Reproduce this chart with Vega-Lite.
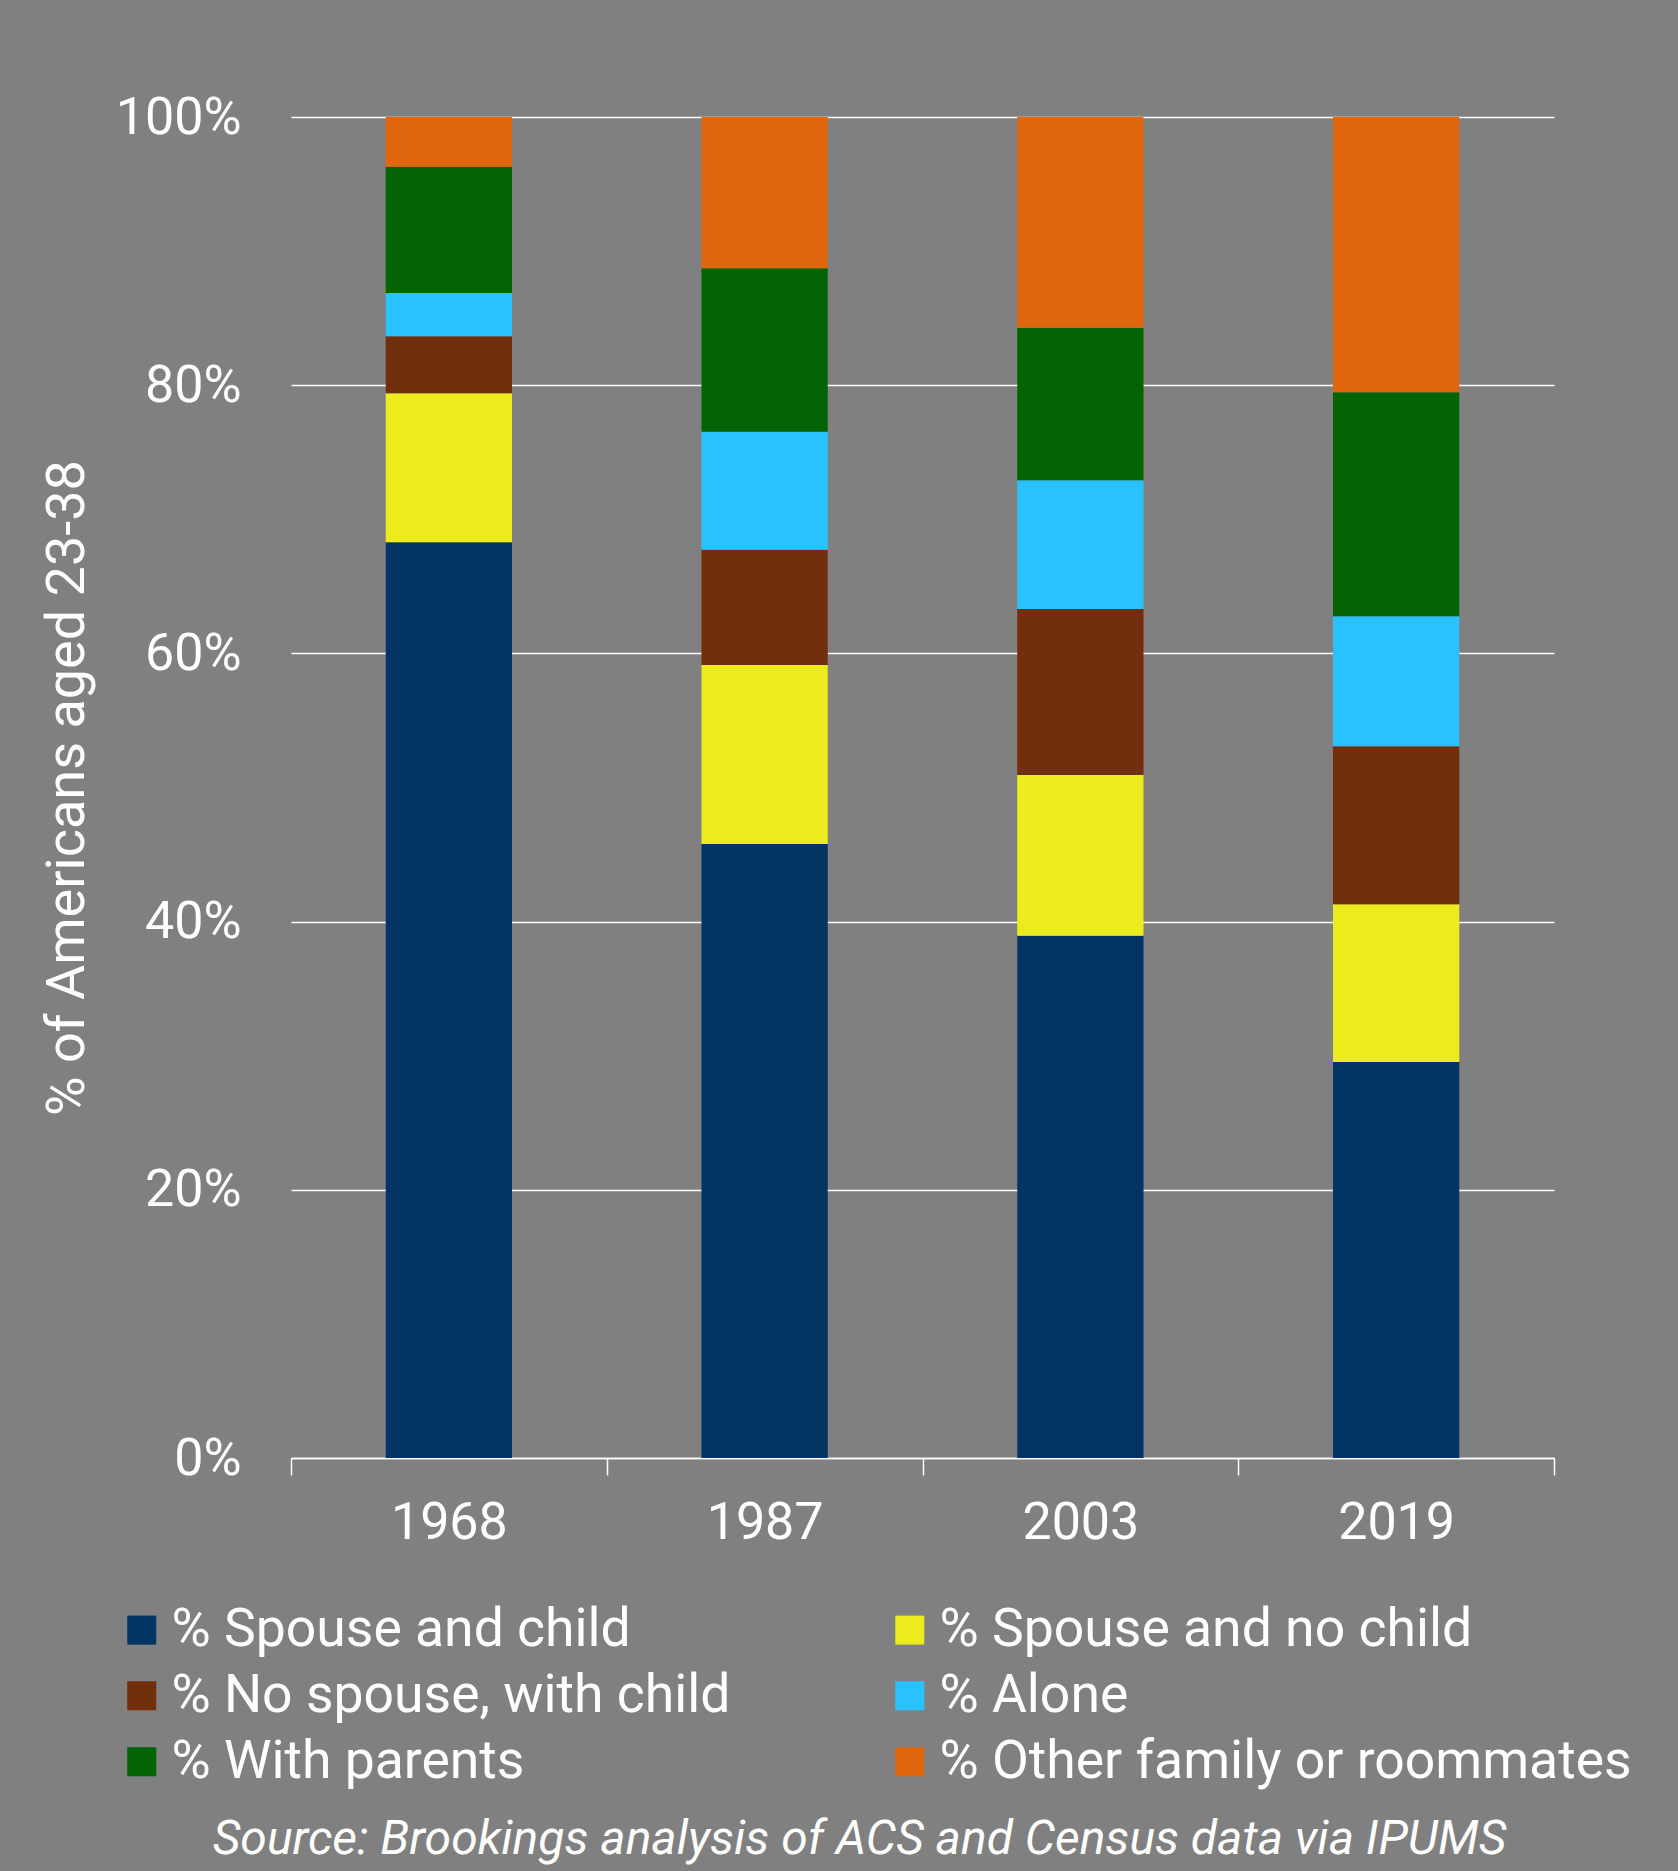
{
  "$schema": "https://vega.github.io/schema/vega-lite/v6.json",
  "width": 1263,
  "height": 1341,
  "autosize": {"type": "none"},
  "padding": {"left": 291, "top": 117, "right": 124, "bottom": 413},
  "background": "#808080",
  "config": {"view": {"stroke": null}, "font": "Roboto"},
  "title": {
    "text": "Source: Brookings analysis of ACS and Census data via IPUMS",
    "orient": "bottom",
    "anchor": "middle",
    "fontSize": 48,
    "fontStyle": "italic",
    "fontWeight": "normal",
    "color": "white",
    "font": "Roboto",
    "offset": 27,
    "dx": -63
  },
  "data": {
    "values": [
      {"year": "1968", "k": 1, "group": "% Spouse and child", "pct": 68.28},
      {"year": "1968", "k": 2, "group": "% Spouse and no child", "pct": 11.12},
      {"year": "1968", "k": 3, "group": "% No spouse, with child", "pct": 4.25},
      {"year": "1968", "k": 4, "group": "% Alone", "pct": 3.23},
      {"year": "1968", "k": 5, "group": "% With parents", "pct": 9.41},
      {"year": "1968", "k": 6, "group": "% Other family or roommates", "pct": 3.71},
      {"year": "1987", "k": 1, "group": "% Spouse and child", "pct": 45.79},
      {"year": "1987", "k": 2, "group": "% Spouse and no child", "pct": 13.35},
      {"year": "1987", "k": 3, "group": "% No spouse, with child", "pct": 8.59},
      {"year": "1987", "k": 4, "group": "% Alone", "pct": 8.8},
      {"year": "1987", "k": 5, "group": "% With parents", "pct": 12.19},
      {"year": "1987", "k": 6, "group": "% Other family or roommates", "pct": 11.28},
      {"year": "2003", "k": 1, "group": "% Spouse and child", "pct": 38.95},
      {"year": "2003", "k": 2, "group": "% Spouse and no child", "pct": 11.98},
      {"year": "2003", "k": 3, "group": "% No spouse, with child", "pct": 12.38},
      {"year": "2003", "k": 4, "group": "% Alone", "pct": 9.6},
      {"year": "2003", "k": 5, "group": "% With parents", "pct": 11.38},
      {"year": "2003", "k": 6, "group": "% Other family or roommates", "pct": 15.71},
      {"year": "2019", "k": 1, "group": "% Spouse and child", "pct": 29.53},
      {"year": "2019", "k": 2, "group": "% Spouse and no child", "pct": 11.76},
      {"year": "2019", "k": 3, "group": "% No spouse, with child", "pct": 11.78},
      {"year": "2019", "k": 4, "group": "% Alone", "pct": 9.7},
      {"year": "2019", "k": 5, "group": "% With parents", "pct": 16.7},
      {"year": "2019", "k": 6, "group": "% Other family or roommates", "pct": 20.53}
    ]
  },
  "mark": {"type": "bar", "width": {"band": 0.4}},
  "encoding": {
    "x": {
      "field": "year",
      "type": "nominal",
      "scale": {"paddingInner": 0, "paddingOuter": 0},
      "axis": {
        "title": null,
        "labelAngle": 0,
        "labelFontSize": 52,
        "labelColor": "white",
        "labelFont": "Roboto",
        "labelPadding": 22,
        "tickBand": "extent",
        "tickSize": 17,
        "tickColor": "white",
        "tickWidth": 1.5,
        "domainColor": "white",
        "domainWidth": 1.5,
        "grid": false
      }
    },
    "y": {
      "field": "pct",
      "type": "quantitative",
      "stack": "zero",
      "scale": {"domain": [0, 100], "nice": false},
      "axis": {
        "title": "% of Americans aged 23-38",
        "titleFontSize": 54,
        "titleFontWeight": "normal",
        "titleColor": "white",
        "titleFont": "Roboto",
        "titlePadding": 21,
        "values": [0, 20, 40, 60, 80, 100],
        "labelExpr": "datum.value + '%'",
        "labelFontSize": 52,
        "labelColor": "white",
        "labelFont": "Roboto",
        "labelPadding": 50,
        "ticks": false,
        "domain": false,
        "grid": true,
        "gridColor": "white",
        "gridWidth": 1.5,
        "gridOpacity": 1
      }
    },
    "order": {"field": "k", "type": "quantitative", "sort": "ascending"},
    "color": {
      "field": "group",
      "type": "nominal",
      "sort": ["% Spouse and child", "% Spouse and no child", "% No spouse, with child", "% Alone", "% With parents", "% Other family or roommates"],
      "scale": {
        "domain": ["% Spouse and child", "% Spouse and no child", "% No spouse, with child", "% Alone", "% With parents", "% Other family or roommates"],
        "range": ["#023563", "#EBEB1E", "#722F0B", "#29C2FF", "#036305", "#E0670E"]
      },
      "legend": {
        "title": null,
        "orient": "none",
        "legendX": -176,
        "legendY": 1486,
        "direction": "horizontal",
        "columns": 2,
        "symbolType": "square",
        "symbolSize": 841,
        "symbolStrokeWidth": 0,
        "labelFontSize": 53.5,
        "labelColor": "white",
        "labelFont": "Roboto",
        "labelOffset": 3,
        "labelLimit": 1000,
        "columnPadding": 152,
        "rowPadding": 11
      }
    }
  }
}
